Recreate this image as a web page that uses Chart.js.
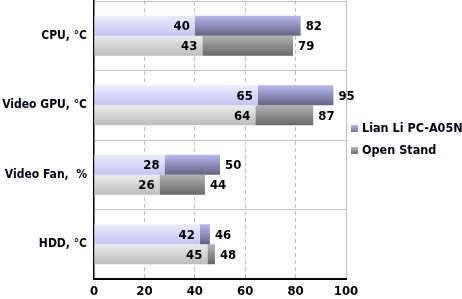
<!DOCTYPE html>
<html>
<head>
<meta charset="utf-8">
<script src="https://cdn.jsdelivr.net/npm/chart.js@4.4.0/dist/chart.umd.min.js"></script>
<style>
  html, body { margin: 0; padding: 0; background: #fff; }
  #wrap { width: 462px; height: 299px; }
</style>
</head>
<body>
<div id="wrap"><canvas id="chart" width="462" height="299"></canvas></div>
<script>
const d = document;

// data
const categories = ["CPU, °C", "Video GPU, °C", "Video Fan,  %", "HDD, °C"];
const seriesNames = ["Lian Li PC-A05N", "Open Stand"];
const lianIdle = [40, 65, 28, 42];
const lianLoad = [82, 95, 50, 46];
const openIdle = [43, 64, 26, 45];
const openLoad = [79, 87, 44, 48];
const xTicks = [0, 20, 40, 60, 80, 100];

const FONT = "'DejaVu Sans Condensed', 'DejaVu Sans', sans-serif";

// gradient stops, top -> bottom
const grads = {
    lianLow: ["#ececff", "#c4c4f2"],
    lianHigh: ["#b8b8f0", "#646484"],
    openLow: ["#ececec", "#bcbcbc"],
    openHigh: ["#b4b4b4", "#686868"],
};

const ctx = d.getElementById("chart");

// paint each bar with a vertical gradient + value labels + legend
const gradientBars = {
    id: "gradientBars",
    beforeDatasetsDraw(chart) {
        const c = chart.ctx;
        chart.data.datasets.forEach((ds, i) => {
            const meta = chart.getDatasetMeta(i);
            meta.data.forEach(el => {
                const top = el.y - el.height / 2, bot = el.y + el.height / 2;
                const g = c.createLinearGradient(0, top, 0, bot);
                g.addColorStop(0, grads[ds.gradKey][0]);
                g.addColorStop(1, grads[ds.gradKey][1]);
                el.options = Object.assign({}, el.options, { backgroundColor: g });
            });
        });
    },
    afterDatasetsDraw(chart) {
        const c = chart.ctx;
        const xs = chart.scales.x;
        c.save();
        c.font = "bold 13px " + FONT;
        c.fillStyle = "#000";
        c.textBaseline = "middle";
        // idle values inside, load values outside
        [[0, lianIdle, lianLoad], [2, openIdle, openLoad]].forEach(([di, low, high]) => {
            const meta = chart.getDatasetMeta(di);
            meta.data.forEach((el, j) => {
                c.textAlign = "right";
                c.fillText(low[j], xs.getPixelForValue(low[j]) - 5, el.y + 1);
                c.textAlign = "left";
                c.fillText(high[j], xs.getPixelForValue(high[j]) + 5, el.y + 1);
            });
        });
        c.restore();
    },
    afterDraw(chart) {
        const c = chart.ctx;
        c.save();
        c.font = "bold 12.5px " + FONT;
        c.textBaseline = "middle";
        c.textAlign = "left";
        [["lianHigh", 129], ["openHigh", 151]].forEach(([k, y], i) => {
            const g = c.createLinearGradient(0, y - 4, 0, y + 4);
            g.addColorStop(0, grads[k][0]);
            g.addColorStop(1, grads[k][1]);
            c.fillStyle = g;
            c.fillRect(351, y - 4, 7, 7);
            c.fillStyle = "#000010";
            c.fillText(seriesNames[i], 362, y);
        });
        c.restore();
    }
};

const chart = new Chart(ctx, {
    type: "bar",
    data: {
        labels: categories,
        datasets: [
            { label: seriesNames[0], data: lianIdle, stack: "lian", gradKey: "lianLow" },
            { label: seriesNames[0], data: lianLoad.map((v, i) => v - lianIdle[i]), stack: "lian", gradKey: "lianHigh" },
            { label: seriesNames[1], data: openIdle, stack: "open", gradKey: "openLow" },
            { label: seriesNames[1], data: openLoad.map((v, i) => v - openIdle[i]), stack: "open", gradKey: "openHigh" },
        ].map(ds => Object.assign(ds, {
            backgroundColor: "#ccc",
            borderWidth: 0,
            categoryPercentage: 0.575,
            barPercentage: 1,
        })),
    },
    options: {
        indexAxis: "y",
        responsive: false,
        animation: false,
        layout: { padding: { top: 1, right: 116, left: 0, bottom: 0 } },
        plugins: {
            legend: { display: false },
            tooltip: { enabled: false },
        },
        scales: {
            x: {
                stacked: true,
                min: 0,
                max: 100,
                afterBuildTicks: s => { s.ticks = xTicks.map(v => ({ value: v })); },
                afterFit: s => { s.height = 20; },
                grid: {
                    color: c => c.tick && c.tick.value === 0 ? "rgba(0,0,0,0)" : "#c0c0c0",
                    lineWidth: 1,
                    drawTicks: false,
                },
                border: {
                    color: "#000",
                    width: 2,
                    dash: c => c.tick && c.tick.value === 100 ? [] : [4, 3],
                },
                ticks: {
                    padding: 5,
                    color: "#000",
                    font: { family: FONT, size: 13, weight: "bold" },
                },
            },
            y: {
                stacked: true,
                afterFit: s => { s.width = 94; s.paddingTop = 0; s.paddingBottom = 0; },
                grid: {
                    offset: true,
                    color: "#c0c0c0",
                    drawTicks: false,
                },
                border: { color: "#000", width: 1.5 },
                ticks: {
                    padding: 7,
                    color: "#000010",
                    font: { family: FONT, size: 12, weight: "bold" },
                },
            },
        },
    },
    plugins: [gradientBars],
});
</script>
</body>
</html>
